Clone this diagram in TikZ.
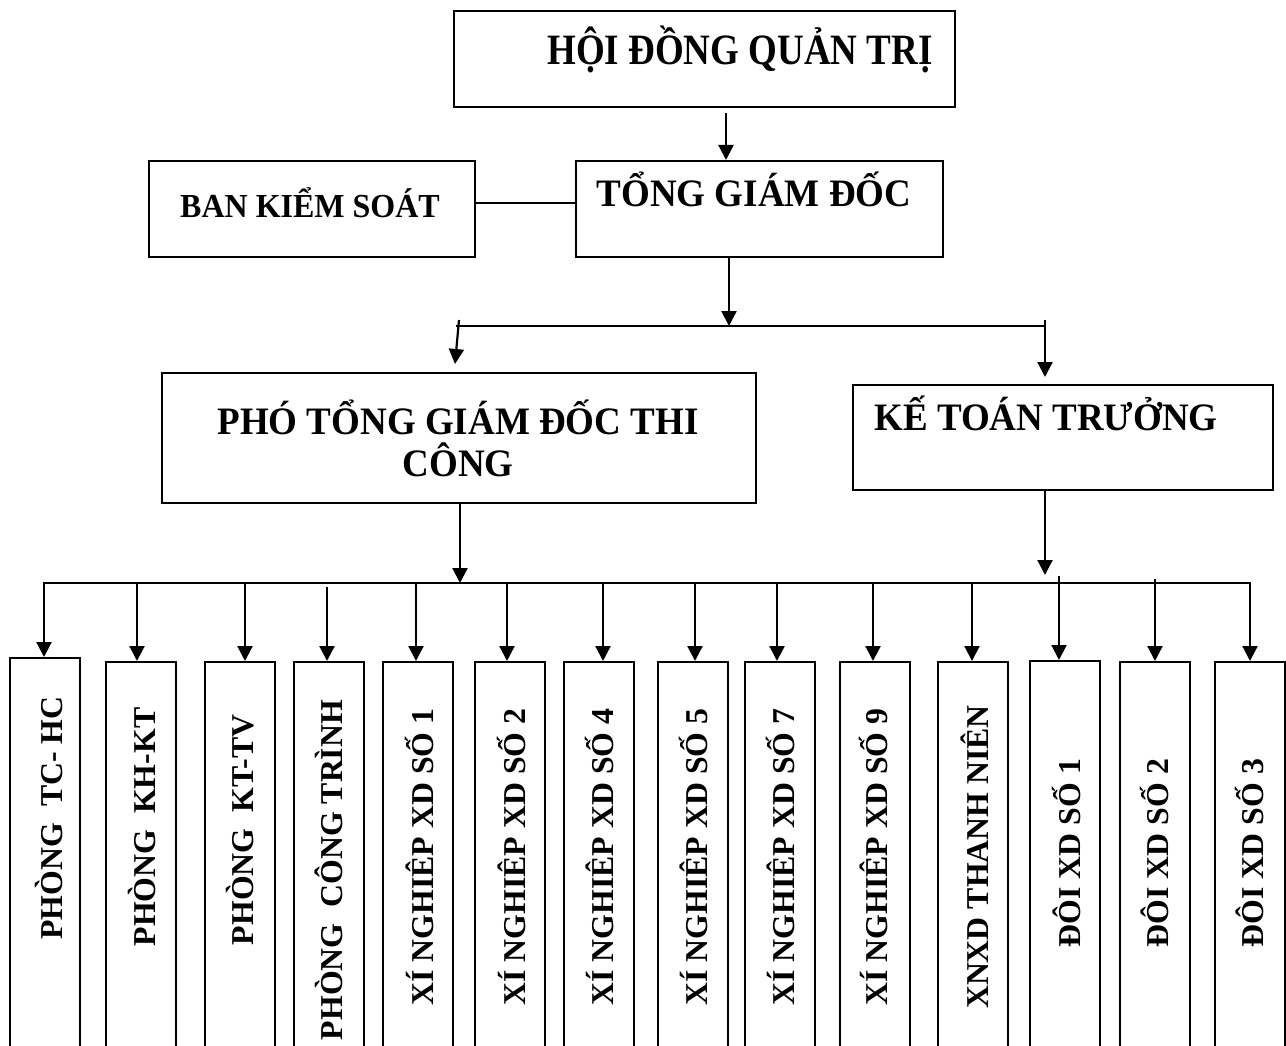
\documentclass[tikz,border=0pt]{standalone}
\usepackage{fontspec}
\setmainfont{Liberation Serif}
\usetikzlibrary{arrows.meta}
\begin{document}
\begin{tikzpicture}[x=1pt,y=-1pt,
  box/.style={draw, line width=2.3pt, inner sep=0pt, anchor=north west},
  lbl/.style={font=\bfseries\fontsize{37}{42}\selectfont, inner sep=0pt, anchor=base},
  vlbl/.style={font=\bfseries\fontsize{31.8}{34}\selectfont, inner sep=0pt, anchor=base, rotate=90},
  link/.style={line width=2.2pt},
  arr/.style={link, -{Triangle[width=15pt,length=15pt]}}]
\useasboundingbox (0,0) rectangle (1286,1046);
\clip (0,0) rectangle (1286,1046);

% upper boxes
\node[box, minimum width=501pt, minimum height=96pt] (hdqt) at (453,10) {};
\node[box, minimum width=367pt, minimum height=96pt] (tgd) at (575,160) {};
\node[box, minimum width=326pt, minimum height=96pt] (bks) at (148,160) {};
\node[box, minimum width=594pt, minimum height=130pt] (ptgd) at (161,372) {};
\node[box, minimum width=420pt, minimum height=105pt] (ktt) at (852,384) {};

\node[lbl] (hdqtT) at (740,65) {\scalebox{1}[1.17]{HỘI ĐỒNG QUẢN TRỊ}};
\node[lbl] (tgdT) at (754,207) {\scalebox{1}[1.05]{TỔNG GIÁM ĐỐC}};
\node[lbl, font=\bfseries\fontsize{32}{36}\selectfont] (bksT) at (310,218) {\scalebox{1}[1.05]{BAN KIỂM SOÁT}};
\node[lbl] (ptgdT1) at (458,434) {\scalebox{1}[1.05]{PHÓ TỔNG GIÁM ĐỐC THI}};
\node[lbl] (ptgdT2) at (458,476) {\scalebox{1}[1.05]{CÔNG}};
\node[lbl] (kttT) at (1046,430) {\scalebox{1}[1.05]{KẾ TOÁN TRƯỞNG}};

% upper connectors
\coordinate (h1) at (726,113);
\draw[arr] (h1) -- (h1 |- tgd.north);
\coordinate (bk) at ([yshift=6pt]bks.east);
\draw[link] (bk) -- (bk -| tgd.west);
\coordinate (mTop) at (729,326);
\draw[arr] (tgd.south -| mTop) -- (mTop);
\coordinate (tl) at (457,326);
\coordinate (tr) at (1045,326);
\draw[link, line cap=rect] (tl) -- (tr);
\coordinate (plTop) at (459,320);
\coordinate (plTip) at (455,364);
\draw[arr] (plTop) -- (plTip);
\coordinate (krTop) at (1045,320);
\coordinate (krTip) at (1045,377);
\draw[arr] (krTop) -- (krTip);

% lower bar
\coordinate (pb) at (460,583);
\draw[arr] (pb |- ptgd.south) -- (pb);
\coordinate (kb) at (1045,575);
\draw[arr] (kb |- ktt.south) -- (kb);

% departments
\foreach \n/\l/\t in {1/9/657, 2/105/661, 3/204/661, 4/293/661, 5/382/661,
  6/474/661, 7/563/661, 8/657/661, 9/744/661, 10/839/661, 11/937/661,
  12/1029/660, 13/1119/661, 14/1214/661}
  \node[box, minimum width=70pt, minimum height=420pt] (b\n) at (\l,\t) {};

\coordinate (a1) at (44,583);
\coordinate (a2) at (137,583);
\coordinate (a3) at (245,583);
\coordinate (a4) at (327,587);
\coordinate (a5) at (416,583);
\coordinate (a6) at (507,583);
\coordinate (a7) at (603,583);
\coordinate (a8) at (695,583);
\coordinate (a9) at (777,583);
\coordinate (a10) at (873,583);
\coordinate (a11) at (972,583);
\coordinate (a12) at (1059,576);
\coordinate (a13) at (1155,579);
\coordinate (a14) at (1250,583);
\draw[link, line cap=rect] (a1) -- (a14);
\foreach \n in {1,...,14}
  \draw[arr] (a\n) -- (a\n |- b\n.north);

\node[vlbl] (t1) at (62,818) {PHÒNG\ \ TC- HC};
\node[vlbl] (t2) at (155,827) {PHÒNG\ \ KH-KT};
\node[vlbl] (t3) at (253,830) {PHÒNG\ \ KT-TV};
\node[vlbl] (t4) at (342,870) {PHÒNG\ \ CÔNG TRÌNH};
\node[vlbl] (t5) at (433,857) {XÍ NGHIÊP XD SỐ 1};
\node[vlbl] (t6) at (525,857) {XÍ NGHIÊP XD SỐ 2};
\node[vlbl] (t7) at (613,857) {XÍ NGHIÊP XD SỐ 4};
\node[vlbl] (t8) at (707,857) {XÍ NGHIÊP XD SỐ 5};
\node[vlbl] (t9) at (794,857) {XÍ NGHIÊP XD SỐ 7};
\node[vlbl] (t10) at (887,857) {XÍ NGHIÊP XD SỐ 9};
\node[vlbl] (t11) at (988,857) {XNXD THANH NIÊN};
\node[vlbl] (t12) at (1080,853) {ĐÔI XD SỐ 1};
\node[vlbl] (t13) at (1168,853) {ĐÔI XD SỐ 2};
\node[vlbl] (t14) at (1263,853) {ĐÔI XD SỐ 3};
\end{tikzpicture}
\end{document}
